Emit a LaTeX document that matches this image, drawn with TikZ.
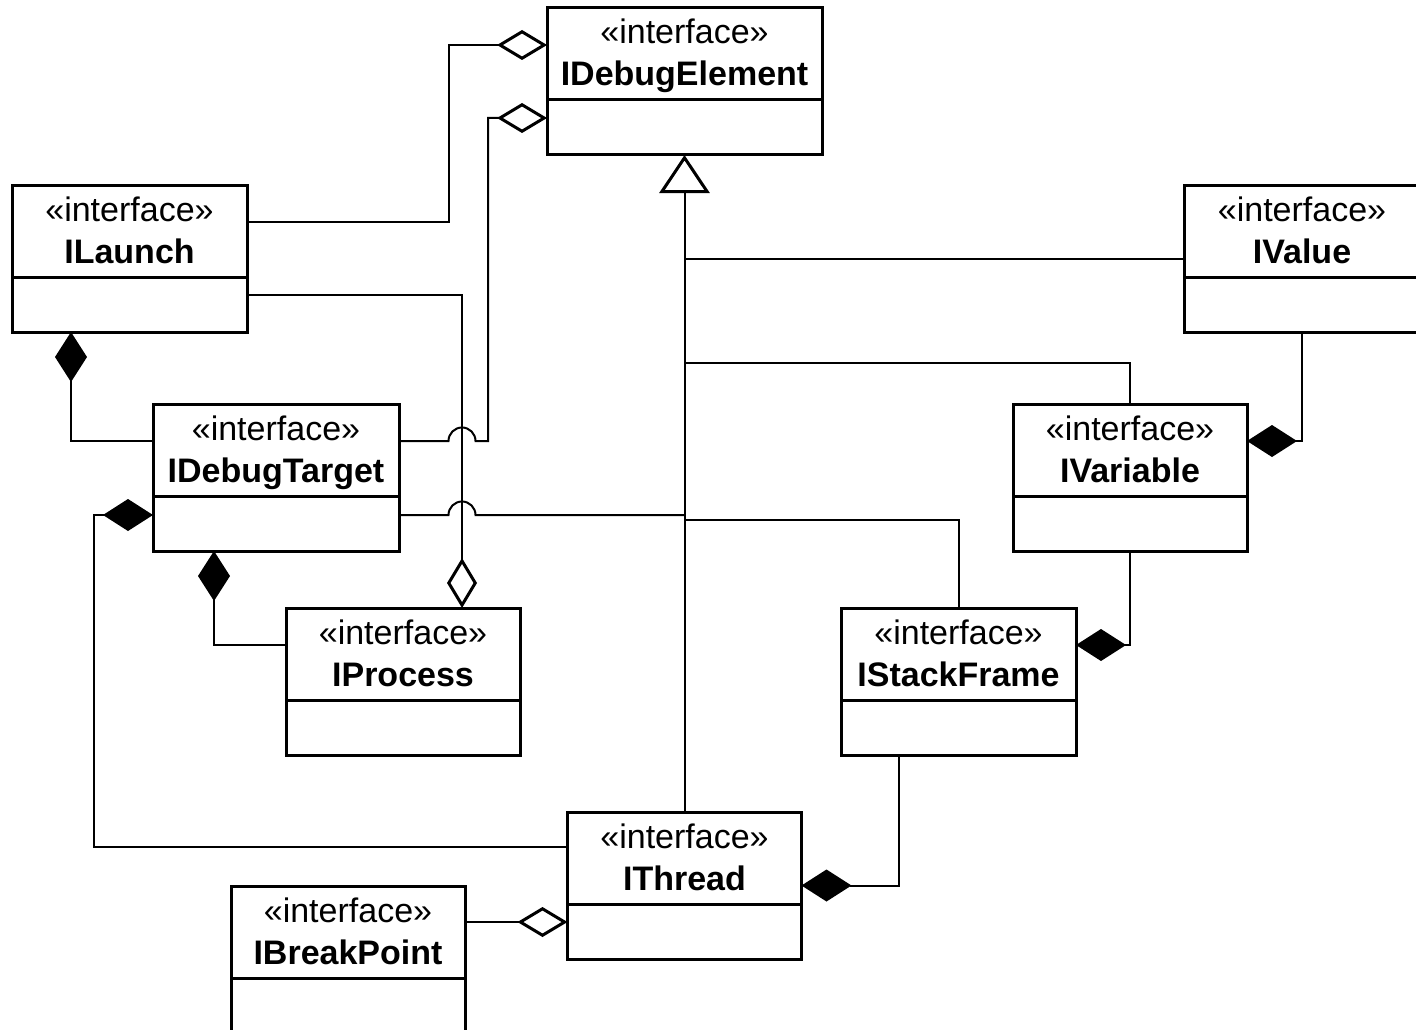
\documentclass[tikz,border=0pt]{standalone}
\usepackage{fontspec}
\setmainfont{Liberation Sans}
\usetikzlibrary{arrows.meta}

\begin{document}
\begin{tikzpicture}[x=1pt, y=-1pt,
	classbox/.style={draw, line width=3pt, inner sep=0pt, outer sep=0pt, minimum height=147pt, anchor=north west},
	stereo/.style={anchor=base, inner sep=0pt, font=\fontsize{34}{40}\selectfont},
	cname/.style={anchor=base, inner sep=0pt, font=\fontsize{34}{40}\selectfont\bfseries},
	link/.style={line width=2pt},
	agg/.style={link, -{Diamond[open, length=50pt, width=30pt, line width=3pt]}},
	comp/.style={link, -{Diamond[length=50pt, width=32pt]}},
	gen/.style={link, -{Triangle[open, length=38pt, width=50pt, line width=3pt]}}]
\useasboundingbox (0,0) rectangle (1416,1030);
\foreach \n/\x/\y/\w/\t in {element/547/8/275pt/IDebugElement, launch/12/185/235pt/ILaunch,
		value/1184/185/236pt/IValue, target/153/404/246pt/IDebugTarget, variable/1013/404/234pt/IVariable,
		process/286/608/234pt/IProcess, stack/841/608/235pt/IStackFrame, thread/567.5/812/234pt/IThread,
		breakpoint/231/886/234pt/IBreakPoint}{
	\node[classbox, minimum width=\w] (\n) at (\x,\y) {};
	\draw[line width=3pt] ([yshift=-92pt]\n.north west) -- ([yshift=-92pt]\n.north east);
	\node[stereo] (\n-st) at ([yshift=-36pt]\n.north) {«interface»};
	\node[cname] (\n-nm) at ([yshift=-78pt]\n.north) {\t};
}

% joins on the inheritance trunk
\coordinate (jvar) at (684.5,363);
\coordinate (jtarget) at (684.5,515);
\coordinate (jstack) at (684.5,520);

\draw[gen] (thread.north) -- (element.south);
\draw[link] (value.west) -- (value.west -| element.south);
\draw[link] (variable.north) |- (jvar);
\draw[link] (stack.north) |- (jstack);
\draw[link] ([yshift=-37.5pt]target.east) -- (448.5,515) arc[start angle=180, end angle=0, radius=13.5pt] -- (jtarget);

\draw[agg] ([yshift=36.5pt]launch.east) -- (449,222) |- ([yshift=36.5pt]element.west);
\draw[agg] ([yshift=36.5pt]target.east) -- (448.5,441) arc[start angle=180, end angle=0, radius=13.5pt]
	-- (488,441) |- ([yshift=-36.5pt]element.west);
\draw[agg] ([yshift=-36.5pt]launch.east) -| ([xshift=59pt]process.north);
\draw[agg] ([yshift=37.5pt]breakpoint.east) -- ([yshift=-36.5pt]thread.west);

\draw[comp] ([yshift=36.5pt]target.west) -| ([xshift=-58.5pt]launch.south);
\draw[comp] ([yshift=38.5pt]thread.west) -- (94,847) |- ([yshift=-37.5pt]target.west);
\draw[comp] ([yshift=36.5pt]process.west) -| ([xshift=-62pt]target.south);
\draw[comp] (value.south) |- ([yshift=36.5pt]variable.east);
\draw[comp] (variable.south) |- ([yshift=36.5pt]stack.east);
\draw[comp] ([xshift=-59.5pt]stack.south) |- (thread.east);
\end{tikzpicture}
\end{document}
